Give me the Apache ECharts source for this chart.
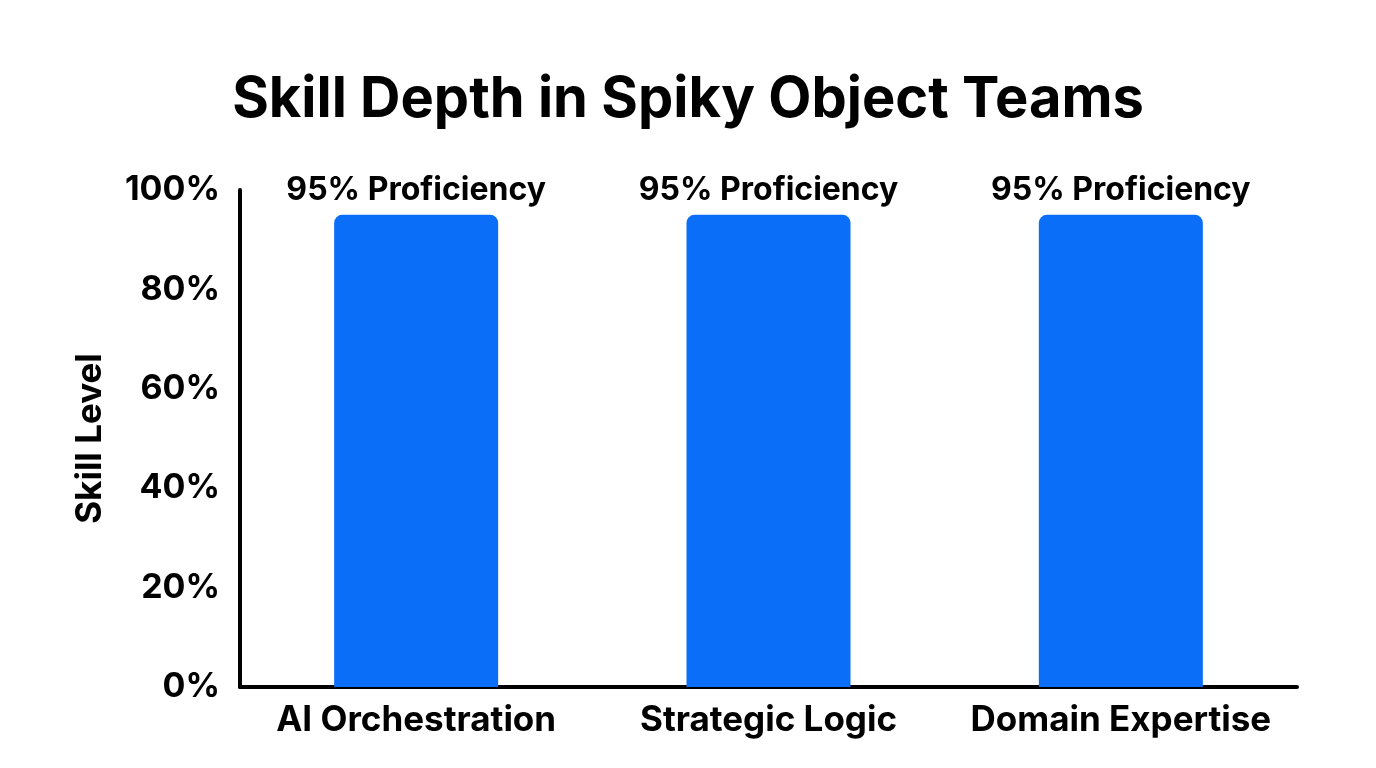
<!DOCTYPE html>
<html>
<head>
<meta charset="utf-8">
<script src="https://cdn.jsdelivr.net/npm/echarts@6/dist/echarts.min.js"></script>
<style>
  html, body { margin: 0; padding: 0; background: #fff; }
  #chart { width: 1376px; height: 768px; }
</style>
</head>
<body>
<div id="chart"></div>
<script>
var categories = ['AI Orchestration', 'Strategic Logic', 'Domain Expertise'];
var skillValues = [95, 95, 95];
var barLabels = ['95% Proficiency', '95% Proficiency', '95% Proficiency'];

var chart = echarts.init(document.getElementById('chart'));

var option = {
  backgroundColor: '#ffffff',
  textStyle: { fontFamily: 'Inter, "Noto Sans", sans-serif' },
  title: {
    text: 'Skill Depth in Spiky Object Teams',
    left: 'center',
    top: 67,
    textStyle: { fontSize: 56, fontWeight: 'bold', color: '#000', fontFamily: 'Inter' }
  },
  grid: { left: 240, right: 79, top: 190, bottom: 81 },
  xAxis: {
    type: 'category',
    data: categories,
    axisLine: { lineStyle: { color: '#000', width: 4 } },
    axisTick: { show: false },
    axisLabel: { interval: 0, fontSize: 35, fontWeight: 'bold', color: '#000', margin: 16, fontFamily: 'Inter' }
  },
  yAxis: {
    type: 'value',
    min: 0,
    max: 100,
    interval: 20,
    name: 'Skill Level',
    nameLocation: 'middle',
    nameGap: 132,
    nameRotate: 90,
    nameTextStyle: { fontSize: 35, fontWeight: 'bold', color: '#000', fontFamily: 'Inter' },
    axisLine: { show: true, lineStyle: { color: '#000', width: 4 } },
    axisTick: { show: false },
    splitLine: { show: false },
    axisLabel: {
      fontSize: 34, fontWeight: 'bold', color: '#000', margin: 20, fontFamily: 'Inter',
      formatter: function (v) { return v + '%'; }
    }
  },
  series: [{
    type: 'bar',
    data: skillValues,
    barWidth: 164,
    itemStyle: { color: '#0A6EF8', borderRadius: [8, 8, 0, 0] },
    label: {
      show: true,
      position: 'top',
      distance: 8,
      fontSize: 32,
      fontWeight: 'bold',
      color: '#000',
      fontFamily: 'Inter',
      formatter: function (p) { return barLabels[p.dataIndex]; }
    }
  }]
};

chart.setOption(option);
</script>
</body>
</html>
